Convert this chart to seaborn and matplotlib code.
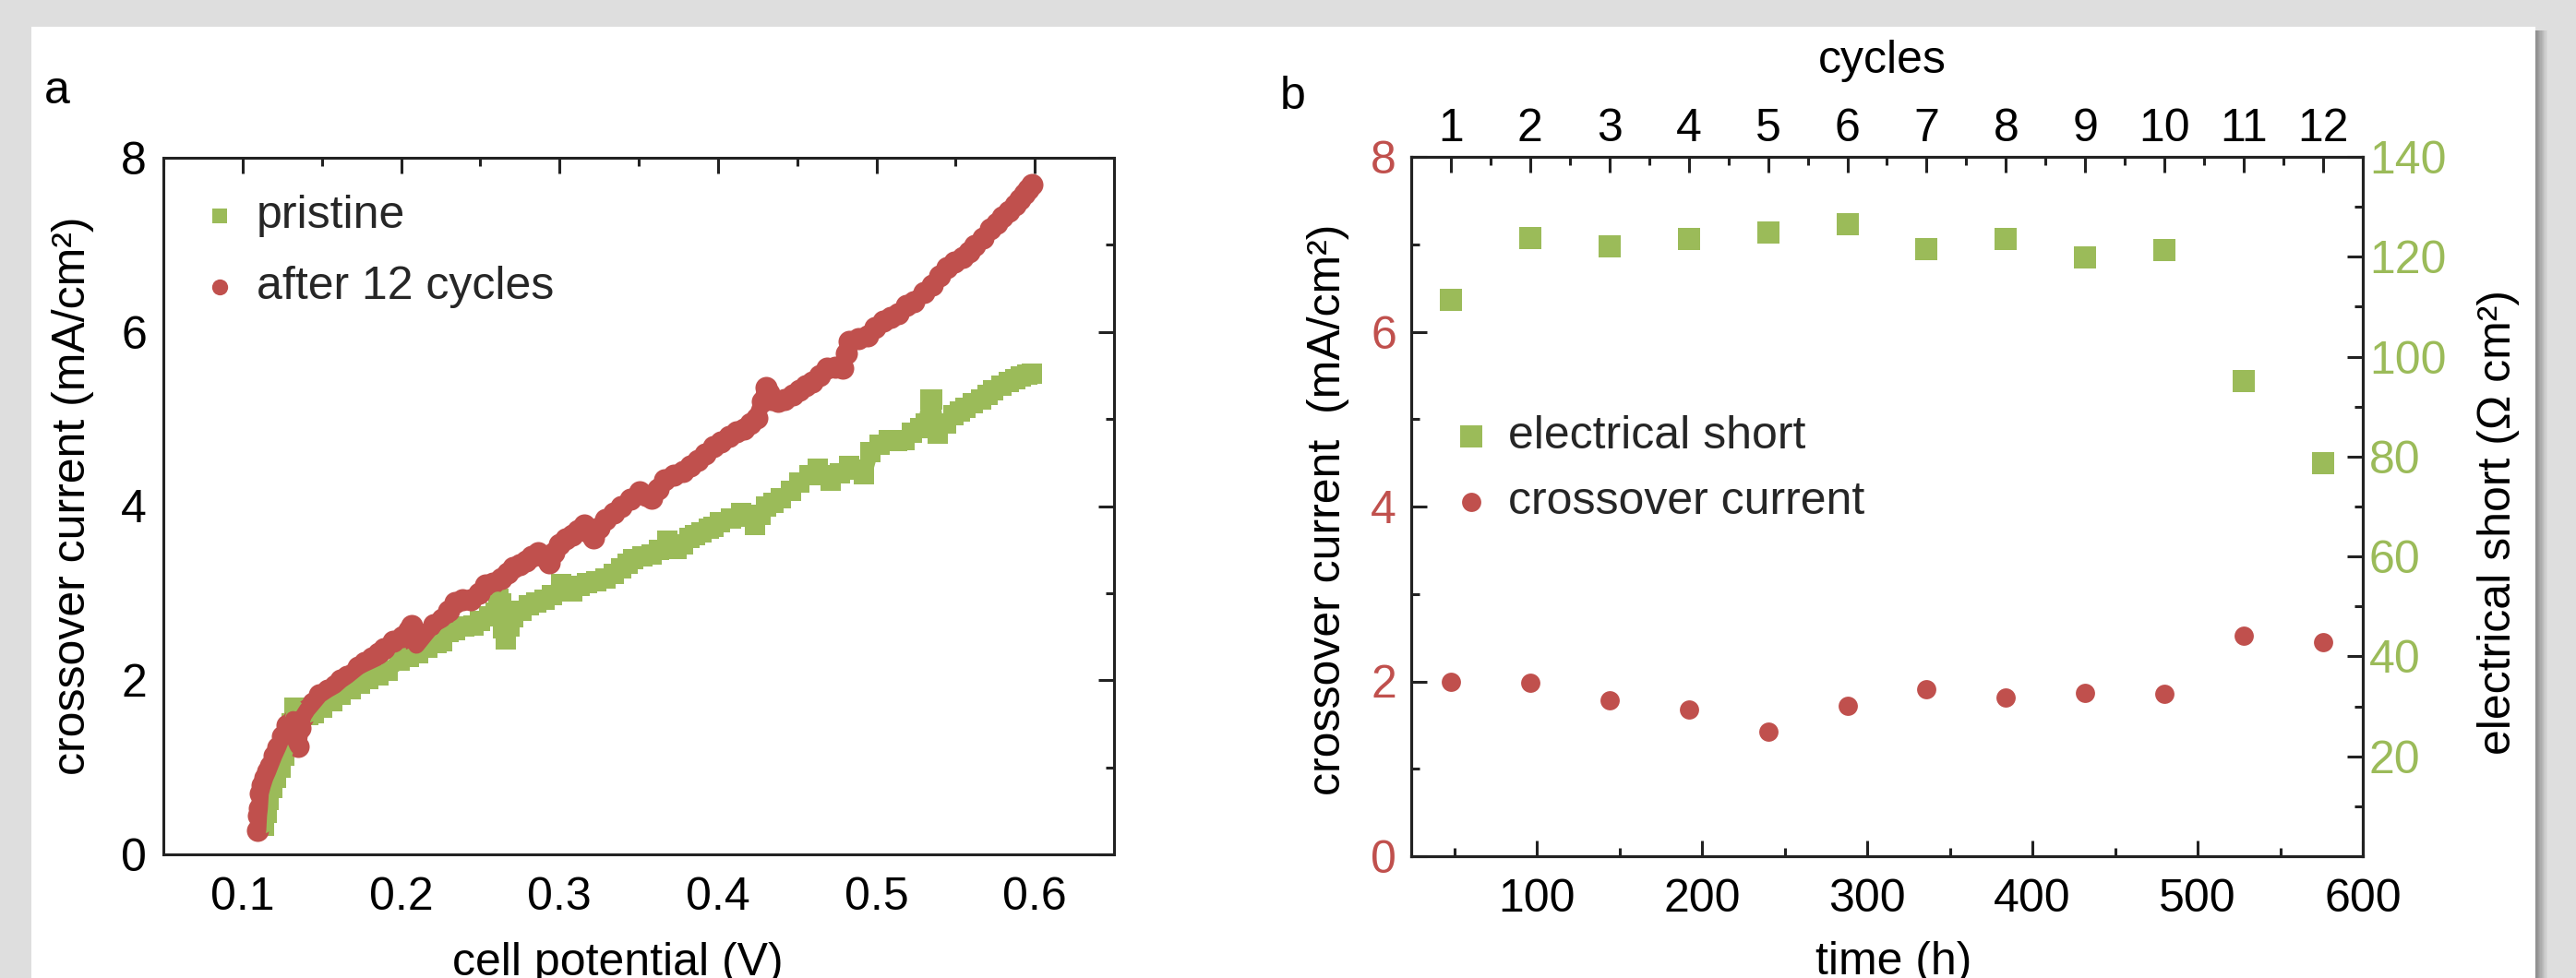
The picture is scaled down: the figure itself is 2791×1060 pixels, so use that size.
import matplotlib
matplotlib.use("Agg")
import matplotlib.pyplot as plt
import numpy as np
import pandas as pd
import seaborn as sns
from matplotlib.patches import Rectangle
from matplotlib.ticker import MultipleLocator, FixedLocator

sns.set_theme(style="white")
plt.rcParams["font.family"] = ["Liberation Sans", "DejaVu Sans"]

GREEN = "#9bbb59"
RED = "#c0504d"
INK = "#222222"
FS = 36

# ---------------- panel a: polarisation scans ----------------
pristine_v = [0.1136, 0.1150, 0.1165, 0.1190, 0.1213, 0.1237, 0.1262, 0.1290, 0.1310, 0.1330,
              0.1350, 0.1380, 0.1415, 0.1447, 0.1500, 0.1564, 0.1620, 0.1680, 0.1740, 0.1796,
              0.1855, 0.1913, 0.1991, 0.2050, 0.2107, 0.2165, 0.2224, 0.2262, 0.2300, 0.2340,
              0.2400, 0.2456, 0.2500, 0.2554, 0.2595, 0.2612, 0.2630, 0.2645, 0.2661, 0.2685,
              0.2709, 0.2760, 0.2806, 0.2855, 0.2904, 0.2955, 0.3010, 0.3045, 0.3078, 0.3125,
              0.3176, 0.3230, 0.3292, 0.3340, 0.3389, 0.3430, 0.3467, 0.3525, 0.3583, 0.3630,
              0.3680, 0.3738, 0.3777, 0.3820, 0.3855, 0.3894, 0.3940, 0.3971, 0.4010, 0.4080,
              0.4146, 0.4190, 0.4234, 0.4270, 0.4302, 0.4350, 0.4399, 0.4460, 0.4516, 0.4575,
              0.4632, 0.4670, 0.4710, 0.4770, 0.4827, 0.4875, 0.4924, 0.4963, 0.5020, 0.5080,
              0.5130, 0.5177, 0.5225, 0.5274, 0.5310, 0.5340, 0.5352, 0.5375, 0.5390, 0.5440,
              0.5487, 0.5525, 0.5564, 0.5610, 0.5661, 0.5700, 0.5739, 0.5790, 0.5836, 0.5875,
              0.5914, 0.5950, 0.5981]
pristine_i = [0.33, 0.48, 0.63, 0.76, 0.88, 1.00, 1.13, 1.30, 1.50, 1.69,
              1.65, 1.60, 1.60, 1.62, 1.69, 1.76, 1.83, 1.90, 1.96, 2.01,
              2.06, 2.11, 2.22, 2.27, 2.31, 2.37, 2.43, 2.45, 2.55, 2.58,
              2.62, 2.63, 2.68, 2.73, 2.78, 2.93, 2.88, 2.60, 2.47, 2.62,
              2.72, 2.80, 2.86, 2.89, 2.92, 2.98, 3.10, 3.05, 3.02, 3.08,
              3.12, 3.14, 3.17, 3.22, 3.28, 3.34, 3.39, 3.42, 3.44, 3.50,
              3.60, 3.51, 3.56, 3.63, 3.67, 3.70, 3.74, 3.76, 3.81, 3.86,
              3.92, 3.88, 3.78, 3.90, 3.99, 4.04, 4.09, 4.18, 4.27, 4.35,
              4.43, 4.35, 4.29, 4.38, 4.46, 4.42, 4.37, 4.62, 4.70, 4.76,
              4.75, 4.76, 4.84, 4.90, 4.95, 5.22, 5.22, 4.95, 4.83, 4.95,
              5.04, 5.09, 5.13, 5.18, 5.22, 5.28, 5.33, 5.38, 5.42, 5.46,
              5.49, 5.51, 5.52]

cycled_v = [0.1097, 0.1102, 0.1107, 0.1113, 0.1126, 0.1142, 0.1159, 0.1174, 0.1198, 0.1223,
            0.1252, 0.1282, 0.1300, 0.1320, 0.1335, 0.1350, 0.1365, 0.1380, 0.1408, 0.1445,
            0.1486, 0.1535, 0.1583, 0.1620, 0.1660, 0.1728, 0.1770, 0.1816, 0.1855, 0.1893,
            0.1952, 0.2010, 0.2050, 0.2068, 0.2085, 0.2097, 0.2150, 0.2204, 0.2262, 0.2300,
            0.2340, 0.2390, 0.2437, 0.2490, 0.2535, 0.2580, 0.2632, 0.2670, 0.2709, 0.2750,
            0.2787, 0.2825, 0.2865, 0.2900, 0.2933, 0.2965, 0.3001, 0.3040, 0.3078, 0.3115,
            0.3156, 0.3185, 0.3214, 0.3250, 0.3292, 0.3340, 0.3389, 0.3450, 0.3505, 0.3545,
            0.3583, 0.3620, 0.3661, 0.3720, 0.3777, 0.3825, 0.3874, 0.3920, 0.3972, 0.4020,
            0.4069, 0.4117, 0.4166, 0.4205, 0.4244, 0.4280, 0.4302, 0.4320, 0.4341, 0.4380,
            0.4419, 0.4470, 0.4516, 0.4555, 0.4594, 0.4640, 0.4691, 0.4740, 0.4788, 0.4810,
            0.4827, 0.4885, 0.4944, 0.4990, 0.5041, 0.5090, 0.5138, 0.5190, 0.5235, 0.5300,
            0.5350, 0.5400, 0.5447, 0.5495, 0.5545, 0.5585, 0.5622, 0.5670, 0.5719, 0.5760,
            0.5797, 0.5835, 0.5875, 0.5905, 0.5933, 0.5960, 0.5981]
cycled_i = [0.28, 0.45, 0.53, 0.70, 0.79, 0.88, 0.95, 1.02, 1.13, 1.23,
            1.36, 1.48, 1.42, 1.55, 1.30, 1.24, 1.45, 1.58, 1.66, 1.74,
            1.83, 1.89, 1.94, 2.00, 2.05, 2.15, 2.20, 2.26, 2.31, 2.36,
            2.45, 2.50, 2.58, 2.63, 2.50, 2.40, 2.52, 2.64, 2.70, 2.80,
            2.89, 2.92, 2.92, 3.00, 3.09, 3.12, 3.17, 3.23, 3.30, 3.33,
            3.37, 3.42, 3.46, 3.42, 3.35, 3.47, 3.56, 3.62, 3.67, 3.72,
            3.78, 3.70, 3.63, 3.75, 3.85, 3.92, 3.99, 4.08, 4.16, 4.12,
            4.09, 4.20, 4.30, 4.36, 4.40, 4.46, 4.52, 4.60, 4.68, 4.74,
            4.80, 4.85, 4.89, 4.95, 5.01, 5.20, 5.36, 5.30, 5.22, 5.20,
            5.22, 5.28, 5.33, 5.38, 5.43, 5.50, 5.58, 5.60, 5.58, 5.75,
            5.89, 5.92, 5.96, 6.05, 6.12, 6.17, 6.21, 6.30, 6.35, 6.45,
            6.54, 6.64, 6.74, 6.80, 6.86, 6.92, 6.99, 7.08, 7.18, 7.25,
            7.32, 7.39, 7.46, 7.52, 7.59, 7.64, 7.69]

# ---------------- panel b: durability over cycles ----------------
cycle_no = [1, 2, 3, 4, 5, 6, 7, 8, 9, 10, 11, 12]
time_h = [48, 96, 144, 192, 240, 288, 336, 384, 432, 480, 528, 576]
crossover_ma = [1.99, 1.98, 1.78, 1.68, 1.43, 1.72, 1.91, 1.82, 1.87, 1.86, 2.52, 2.45]
short_ohm = [111.3, 123.8, 122.1, 123.6, 124.8, 126.5, 121.5, 123.5, 119.9, 121.3, 95.1, 78.6]

W, H = 2791, 1060
fig = plt.figure(figsize=(W / 100, H / 100), dpi=100, facecolor="#dedede")

# white sheet with a soft shadow on its right edge
for k in range(10):
    shade = 0.55 + 0.032 * k
    fig.patches.append(Rectangle(((2747 + 1.3 * k) / W, 0), 1.4 / W, 1 - 33 / H,
                                 transform=fig.transFigure, fc=(shade, shade, shade),
                                 ec="none", zorder=-3))
fig.patches.append(Rectangle((34 / W, 0), (2747 - 34) / W, 1 - 29 / H,
                             transform=fig.transFigure, fc="white", ec="none", zorder=-2))


def style_spines(ax):
    for sp in ax.spines.values():
        sp.set_visible(True)
        sp.set_color(INK)
        sp.set_linewidth(2.2)


# ---------- panel a ----------
ax_a = fig.add_axes([177 / W, 1 - 926 / H, 1030 / W, 755 / H])
df_p = pd.DataFrame({"v": pristine_v, "i": pristine_i})
df_c = pd.DataFrame({"v": cycled_v, "i": cycled_i})

sns.lineplot(data=df_p, x="v", y="i", ax=ax_a, color=GREEN, lw=12, sort=False,
             estimator=None, legend=False)
sns.scatterplot(data=df_p, x="v", y="i", ax=ax_a, color=GREEN, marker="s", s=240,
                linewidth=0, label="pristine")
sns.lineplot(data=df_c, x="v", y="i", ax=ax_a, color=RED, lw=13, sort=False,
             estimator=None, legend=False)
sns.scatterplot(data=df_c, x="v", y="i", ax=ax_a, color=RED, marker="o", s=300,
                linewidth=0, label="after 12 cycles")

ax_a.set_xlim(0.05, 0.65)
ax_a.set_ylim(0, 8)
ax_a.xaxis.set_major_locator(MultipleLocator(0.1))
ax_a.xaxis.set_minor_locator(MultipleLocator(0.05))
ax_a.yaxis.set_major_locator(MultipleLocator(2))
ax_a.yaxis.set_minor_locator(MultipleLocator(1))
style_spines(ax_a)
ax_a.tick_params(which="both", direction="in", top=True, right=True, color=INK,
                 width=2.2, labelsize=FS, labelcolor="black")
ax_a.tick_params(which="major", length=12)
ax_a.tick_params(which="minor", length=6.5)
ax_a.tick_params(axis="x", pad=17)
ax_a.tick_params(axis="y", pad=13)
ax_a.set_xlabel("cell potential (V)", fontsize=FS, color="black")
ax_a.set_ylabel("crossover current (mA/cm²)", fontsize=FS, color="black")
ax_a.xaxis.set_label_coords(0.478, -0.126)
ax_a.yaxis.set_label_coords(-0.073, 0.515)

h, l = ax_a.get_legend_handles_labels()
ax_a.legend(h, l, loc="upper left", bbox_to_anchor=(0.040, 0.947), frameon=False,
            fontsize=FS, handlelength=0.8, handletextpad=0.4, labelspacing=0.62,
            borderpad=0, borderaxespad=0, markerscale=0.72)

# ---------- panel b ----------
ax_b = fig.add_axes([1529 / W, 1 - 928 / H, 1031 / W, 758 / H])
df_b = pd.DataFrame({"time": time_h, "cycle": cycle_no,
                     "crossover": crossover_ma, "short": short_ohm})

sns.scatterplot(data=df_b, x="time", y="crossover", ax=ax_b, color=RED, marker="o",
                s=225, linewidth=0, label="crossover current")
ax_b.set_xlim(24, 600)
ax_b.set_ylim(0, 8)
ax_b.xaxis.set_major_locator(MultipleLocator(100))
ax_b.xaxis.set_minor_locator(MultipleLocator(50))
ax_b.yaxis.set_major_locator(MultipleLocator(2))
ax_b.yaxis.set_minor_locator(MultipleLocator(1))
style_spines(ax_b)

ax_r = ax_b.twinx()
sns.scatterplot(data=df_b, x="time", y="short", ax=ax_r, color=GREEN, marker="s",
                s=285, linewidth=0, label="electrical short")
ax_r.set_ylim(0, 140)
ax_r.yaxis.set_major_locator(FixedLocator([20, 40, 60, 80, 100, 120, 140]))
ax_r.yaxis.set_minor_locator(FixedLocator([10, 30, 50, 70, 90, 110, 130]))

ax_t = ax_b.twiny()
ax_t.set_xlim(ax_b.get_xlim())
ax_t.set_xticks(time_h)
ax_t.set_xticklabels([str(c) for c in cycle_no])
ax_t.xaxis.set_minor_locator(FixedLocator([t + 24 for t in time_h[:-1]]))

for ax in (ax_b, ax_r, ax_t):
    style_spines(ax)
    ax.tick_params(which="both", direction="in", color=INK, width=2.2, labelsize=FS)
    ax.tick_params(which="major", length=12)
    ax.tick_params(which="minor", length=6.5)

ax_b.tick_params(axis="x", which="both", bottom=True, top=False, pad=17, labelcolor="black")
ax_b.tick_params(axis="y", which="both", left=True, right=False, pad=11.5, labelcolor=RED)
ax_r.tick_params(axis="y", which="both", right=True, left=False, pad=5, labelcolor=GREEN)
ax_t.tick_params(axis="x", which="both", top=True, bottom=False, pad=5.4, labelcolor="black")

ax_b.set_xlabel("time (h)", fontsize=FS, color="black")
ax_b.set_ylabel("crossover current  (mA/cm²)", fontsize=FS, color="black")
ax_r.set_ylabel("electrical short (Ω cm²)", fontsize=FS, color="black")
ax_t.set_xlabel("cycles", fontsize=FS, color="black")
ax_b.xaxis.set_label_coords(0.507, -0.122)
ax_b.yaxis.set_label_coords(-0.065, 0.495)
ax_r.yaxis.set_label_coords(1.1207, 0.4776)
ax_t.xaxis.set_label_coords(0.495, 1.1205)

hr, lr = ax_r.get_legend_handles_labels()
hb, lb = ax_b.get_legend_handles_labels()
if ax_b.get_legend() is not None:
    ax_b.get_legend().remove()
ax_r.legend(hr + hb, lr + lb, loc="upper left", bbox_to_anchor=(0.0436, 0.63),
            frameon=False, fontsize=FS, handlelength=0.8, handletextpad=0.4,
            labelspacing=0.5, borderpad=0, borderaxespad=0)

fig.text(48 / W, 1 - 112 / H, "a", fontsize=FS, ha="left", va="baseline", color="black")
fig.text(1387 / W, 1 - 118 / H, "b", fontsize=FS, ha="left", va="baseline", color="black")

fig.savefig("out.png", dpi=100, facecolor=fig.get_facecolor())
